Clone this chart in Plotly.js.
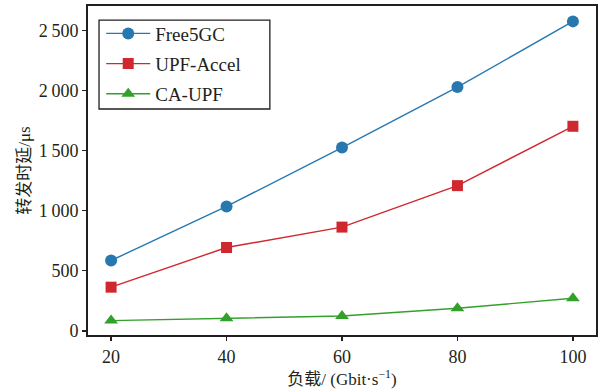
<!DOCTYPE html>
<html>
<head>
<meta charset="utf-8">
<script src="https://cdn.plot.ly/plotly-3.0.1.min.js"></script>
<style>
  html, body { margin: 0; padding: 0; background: #fff; }
  #chart { width: 602px; height: 391px; }
</style>
</head>
<body>
<div id="chart"></div>
<script>
// Offered load (Gbit/s)
const loads = [20, 40, 60, 80, 100];

// Forwarding latency (µs) per UPF implementation
const free5gc  = [585, 1035, 1525, 2028, 2575];
const upfAccel = [363, 693, 863, 1208, 1702];
const caUpf    = [85, 104, 123, 187, 271];

const seriesNames = ['Free5GC', 'UPF-Accel', 'CA-UPF'];

// Axis ticks
const xTickVals = [20, 40, 60, 80, 100];
const yTickVals = [0, 500, 1000, 1500, 2000, 2500];
const yTickText = ['0', '500', '1\u2009000', '1\u2009500', '2\u2009000', '2\u2009500'];

const serif = '"Liberation Serif", "Times New Roman", "Noto Sans CJK SC", serif';
const ink = '#231f20';

function series(y, name, color, symbol, size, group) {
  return {
    x: loads, y: y, name: name, type: 'scatter', mode: 'lines+markers',
    legendgroup: group,
    line: { color: color, width: 1.4 },
    marker: { color: color, symbol: symbol, size: size, line: { width: 0 } }
  };
}

const data = [
  series(free5gc,  seriesNames[0], '#2878b0', 'circle', 12, 'a'),
  series(upfAccel, seriesNames[1], '#d0282f', 'square', 11, 'b'),
  series(caUpf,    seriesNames[2], '#33a02c', 'triangle-up', 12, 'c')
];

const axisCommon = {
  showline: true, linecolor: ink, linewidth: 2, mirror: true,
  ticks: 'outside', ticklen: 4, tickwidth: 1.5, tickcolor: ink,
  showgrid: false, zeroline: false,
  tickfont: { family: serif, size: 18, color: ink }
};

const layout = {
  width: 602, height: 391,
  margin: { l: 88, r: 6, t: 6, b: 56 },
  paper_bgcolor: '#fff', plot_bgcolor: '#fff',
  font: { family: serif, color: ink },
  xaxis: Object.assign({}, axisCommon, {
    range: [16, 104], tickvals: xTickVals,
    title: { text: '负载/ (Gbit·s<sup>−1</sup>)', font: { family: serif, size: 17, color: ink }, standoff: 8 }
  }),
  yaxis: Object.assign({}, axisCommon, {
    range: [-35, 2703], tickvals: yTickVals, ticktext: yTickText,
    title: { text: '转发时延/μs', font: { family: serif, size: 17, color: ink }, standoff: 4 }
  }),
  // legend frame, wider than the entries it holds
  shapes: [{
    type: 'rect', xref: 'paper', yref: 'paper',
    x0: 0.0217, x1: 0.358, y0: 0.687, y1: 0.957,
    line: { color: ink, width: 1.3 }, fillcolor: '#fff', layer: 'above'
  }],
  legend: {
    x: 0.026, y: 0.974, xanchor: 'left', yanchor: 'top',
    bgcolor: 'rgba(0,0,0,0)', borderwidth: 0,
    font: { family: serif, size: 19, color: ink },
    itemwidth: 44, tracegroupgap: 2.5
  },
  showlegend: true
};

Plotly.newPlot('chart', data, layout, { displayModeBar: false, staticPlot: true });
</script>
</body>
</html>
